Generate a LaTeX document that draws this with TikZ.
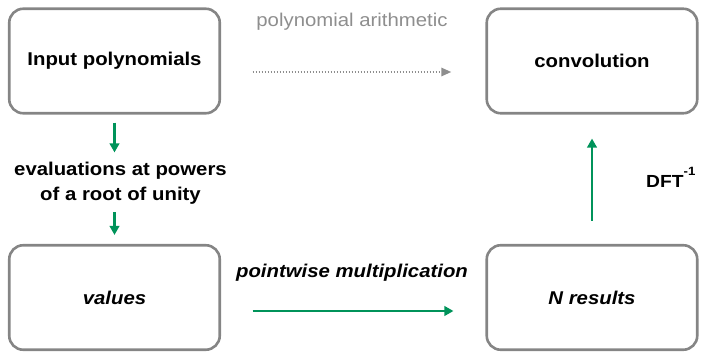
\documentclass[tikz,border=0pt]{standalone}
\usepackage{fontspec}
\setmainfont{Liberation Sans}[FakeStretch=1.1]
\usetikzlibrary{arrows.meta,positioning}
\definecolor{boxgray}{HTML}{858585}
\definecolor{dotgray}{HTML}{8E8E8E}
\definecolor{arrowgreen}{HTML}{00935A}
\begin{document}
\begin{tikzpicture}[x=1pt,y=-1pt,
box/.style={draw=boxgray, line width=2.6pt, rounded corners=14pt,
  minimum width=210.5pt, minimum height=104.5pt,
  font=\fontsize{18.5}{22}\selectfont\bfseries},
greenarrow/.style={draw=arrowgreen, line width=2.8pt, -{Triangle[length=9pt,width=9.5pt]}},
dotarrow/.style={draw=dotgray, line width=2.4pt, dash pattern=on 1.6pt off 1.4pt,
  -{Triangle[length=10pt,width=8pt]}},
steplabel/.style={font=\fontsize{18.5}{25.5}\selectfont\bfseries, align=center, inner sep=0pt}]
\useasboundingbox (0,0) rectangle (702,352);
% boxes
\node[box] (input) at (114.5,61) {Input polynomials};
\node[box] (conv) at (592,61) {convolution};
\node[box, font=\fontsize{18.5}{22}\selectfont\bfseries\itshape] (values) at (114.5,297.5) {values};
\node[box, font=\fontsize{18.5}{22}\selectfont\bfseries\itshape] (results) at (592,297.5) {N results};
% labels
\node[steplabel] (eval) at (120.5,183) {evaluations at powers\\of a root of unity};
\node[font=\fontsize{18.5}{22}\selectfont, text=dotgray, anchor=base] (arith) at (352,27) {polynomial arithmetic};
\node[font=\fontsize{18.5}{22}\selectfont\bfseries\itshape, anchor=base] (pointwise) at (352,278) {pointwise multiplication};
\node[font=\fontsize{17.5}{20}\selectfont\bfseries, anchor=base west, inner sep=0pt] (dft) at (646,187.5)
  {DFT\raisebox{12pt}{\fontsize{12}{12}\selectfont -1}};
% arrows
\draw[greenarrow, shorten <=8pt, shorten >=9pt] (input.south) -- (input.south |- eval.north);
\draw[greenarrow, shorten <=7.5pt, shorten >=9pt] (values.north |- eval.south) -- (values.north);
\draw[dotarrow, shorten <=31.5pt, shorten >=34pt] ([yshift=-11pt]input.east) -- ([yshift=-11pt]conv.west);
\draw[greenarrow, shorten <=31.5pt, shorten >=32pt] ([yshift=-13.5pt]values.east) -- ([yshift=-13.5pt]results.west);
\draw[greenarrow, shorten <=23pt, shorten >=24pt] (results) -- (conv);
\end{tikzpicture}
\end{document}
